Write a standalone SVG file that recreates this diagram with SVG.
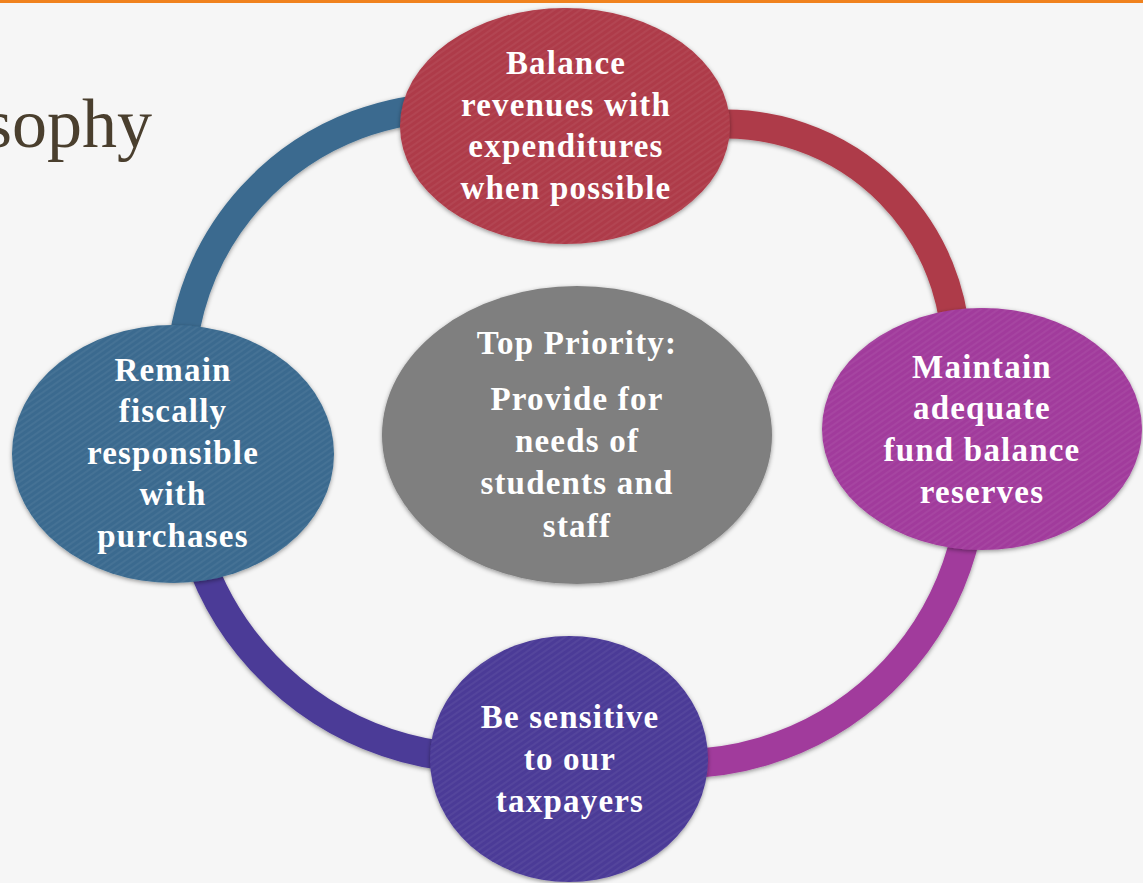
<svg xmlns="http://www.w3.org/2000/svg" width="1143" height="883" viewBox="0 0 1143 883">
<style>
.lbl{font-family:"Liberation Serif","Times New Roman",serif;font-weight:bold;font-size:33px;letter-spacing:1.2px;fill:#ffffff;text-anchor:middle}
.arc{fill:none;stroke-width:29;filter:url(#sh)}
.node{filter:url(#sh)}
.tex{fill:url(#stripes)}
</style>
<defs>
<filter id="sh" x="-10%" y="-10%" width="120%" height="120%">
<feDropShadow dx="0" dy="1.5" stdDeviation="2" flood-color="#000" flood-opacity="0.4"/>
</filter>
<pattern id="stripes" width="5" height="5" patternUnits="userSpaceOnUse" patternTransform="rotate(-35)">
<rect width="5" height="2" fill="#ffffff" fill-opacity="0.05"/>
</pattern>
</defs>
<rect x="0" y="0" width="1143" height="883" fill="#f6f6f6"/>
<rect x="0" y="0" width="1143" height="3" fill="#f0821e"/>
<text x="152" y="147" font-family="Liberation Serif,serif" font-size="70" fill="#4a3f2e" text-anchor="end">sophy</text>
<g id="connectors">
<path class="arc" stroke="#3a6a8f" d="M 184 422 A 272 272 0 0 1 470 108"/>
<path class="arc" stroke="#ae3b48" d="M 705 125 A 231 231 0 0 1 955 380"/>
<path class="arc" stroke="#a13b9c" d="M 972 444 A 294 294 0 0 1 640 761"/>
<path class="arc" stroke="#4b3a97" d="M 536 754 A 302 302 0 0 1 184 422"/>
</g>
<g id="node-top">
<ellipse class="node" cx="565" cy="126" rx="165" ry="118" fill="#ae3b48"/>
<ellipse class="tex" cx="565" cy="126" rx="165" ry="118"/>
<text class="lbl" x="566" y="74">Balance</text>
<text class="lbl" x="566" y="116">revenues with</text>
<text class="lbl" x="566" y="157">expenditures</text>
<text class="lbl" x="566" y="199">when possible</text>
</g>
<g id="node-right">
<ellipse class="node" cx="982" cy="429" rx="160" ry="121" fill="#a13b9c"/>
<ellipse class="tex" cx="982" cy="429" rx="160" ry="121"/>
<text class="lbl" x="982" y="378">Maintain</text>
<text class="lbl" x="982" y="419">adequate</text>
<text class="lbl" x="982" y="461">fund balance</text>
<text class="lbl" x="982" y="503">reserves</text>
</g>
<g id="node-bottom">
<ellipse class="node" cx="569" cy="759" rx="139" ry="123" fill="#4b3a97"/>
<ellipse class="tex" cx="569" cy="759" rx="139" ry="123"/>
<text class="lbl" x="570" y="728">Be sensitive</text>
<text class="lbl" x="570" y="770">to our</text>
<text class="lbl" x="570" y="812">taxpayers</text>
</g>
<g id="node-left">
<ellipse class="node" cx="173" cy="454" rx="161" ry="129" fill="#3a6a8f"/>
<ellipse class="tex" cx="173" cy="454" rx="161" ry="129"/>
<text class="lbl" x="173" y="381">Remain</text>
<text class="lbl" x="173" y="422">fiscally</text>
<text class="lbl" x="173" y="464">responsible</text>
<text class="lbl" x="173" y="505">with</text>
<text class="lbl" x="173" y="547">purchases</text>
</g>
<g id="node-center">
<ellipse class="node" cx="577" cy="435" rx="195" ry="149" fill="#7f7f7f"/>
<text class="lbl" x="577" y="354">Top Priority:</text>
<text class="lbl" x="577" y="410">Provide for</text>
<text class="lbl" x="577" y="452">needs of</text>
<text class="lbl" x="577" y="494">students and</text>
<text class="lbl" x="577" y="537">staff</text>
</g>
</svg>
